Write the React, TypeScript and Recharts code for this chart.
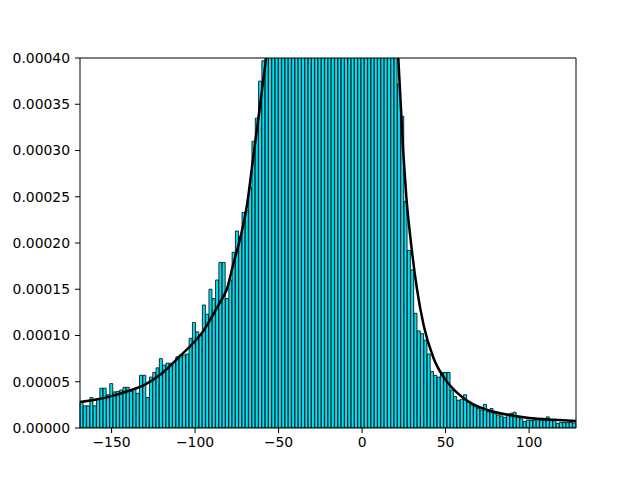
import { Bar, ComposedChart, Line, ReferenceLine, XAxis, YAxis } from "recharts";

// histogram bins (density per bin), left to right
const BIN_START = -168.9;
const BIN_WIDTH = 1.98;
const X_MIN = -168.9;
const X_MAX = 128.1;
const Y_MAX = 0.0004;

const densities = [
  // left tail
  2.8e-5, 2.4e-5, 2.4e-5, 3.3e-5, 2.4e-5, 3.1e-5, 4.3e-5, 4.3e-5, 3.6e-5, 4.8e-5,
  3.9e-5, 3.95e-5, 4.1e-5, 4.4e-5, 4.4e-5, 3.95e-5, 4.2e-5, 3.75e-5, 5.7e-5, 5.7e-5,
  3.3e-5, 5.5e-5, 6.0e-5, 6.5e-5, 7.5e-5, 6.8e-5, 7.0e-5, 7.0e-5, 7.1e-5, 7.7e-5,
  7.9e-5, 7.9e-5, 8.0e-5, 9.7e-5, 1.14e-4, 1.04e-4, 1.0e-4, 1.33e-4, 1.23e-4, 1.5e-4,
  1.4e-4, 1.6e-4, 1.79e-4, 1.79e-4, 1.4e-4, 1.6e-4, 1.9e-4, 2.13e-4, 2.07e-4, 2.33e-4,
  2.35e-4, 2.6e-4, 3.1e-4, 3.35e-4, 3.75e-4, 3.97e-4,
  // centre (beyond the top of the axes)
  4.3e-4, 4.7e-4, 5.1e-4, 5.6e-4, 6.0e-4, 6.5e-4, 7.0e-4, 7.4e-4, 7.8e-4, 8.2e-4,
  8.6e-4, 9.0e-4, 9.3e-4, 9.6e-4, 9.9e-4, 1.01e-3, 1.03e-3, 1.04e-3, 1.05e-3, 1.05e-3,
  1.04e-3, 1.03e-3, 1.01e-3, 9.9e-4, 9.6e-4, 9.3e-4, 9.0e-4, 8.6e-4, 8.2e-4, 7.8e-4,
  7.3e-4, 6.8e-4, 6.3e-4, 5.8e-4, 5.3e-4, 4.9e-4, 4.6e-4, 4.4e-4, 4.2e-4, 4.1e-4,
  // right tail
  3.72e-4, 3.37e-4, 2.45e-4, 1.92e-4, 1.71e-4, 1.24e-4, 1.05e-4, 1.02e-4, 9.5e-5, 8.0e-5,
  6.1e-5, 5.7e-5, 5.5e-5, 6.0e-5, 6.0e-5, 6.0e-5, 4.1e-5, 3.4e-5, 3.0e-5, 3.1e-5,
  3.6e-5, 2.85e-5, 2.5e-5, 2.3e-5, 2.1e-5, 1.95e-5, 2.55e-5, 1.77e-5, 2.1e-5, 1.6e-5,
  1.4e-5, 1.3e-5, 1.15e-5, 1.5e-5, 1.6e-5, 1.7e-5, 1.15e-5, 1.0e-5, 7.0e-6, 8.6e-6,
  8.2e-6, 8.6e-6, 9.0e-6, 8.4e-6, 8.6e-6, 1.2e-5, 8.0e-6, 8.0e-6, 5.0e-6, 6.0e-6,
  6.0e-6, 5.8e-6, 6.0e-6, 5.5e-6,
];

// fitted density curve
const fitX = [
  -169, -160, -150, -140, -130, -120, -110, -100, -95, -90, -85, -81, -77, -73, -69,
  -65, -61, -57.5, -54, -45, -30, -18, -5, 10, 18, 21.7, 24.6, 26.5, 29.3, 32.9, 37,
  42.7, 50, 57, 66, 75, 88, 100, 115, 128.1,
];
const fitY = [
  2.8e-5, 3.05e-5, 3.45e-5, 4.0e-5, 4.7e-5, 5.9e-5, 7.6e-5, 9.4e-5, 1.05e-4, 1.2e-4,
  1.36e-4, 1.5e-4, 1.78e-4, 2.05e-4, 2.4e-4, 2.95e-4, 3.5e-4, 4.0e-4, 4.6e-4, 6.5e-4,
  9.5e-4, 1.05e-3, 9.0e-4, 6.5e-4, 4.8e-4, 4.0e-4, 3.0e-4, 2.5e-4, 2.0e-4, 1.5e-4,
  1.1e-4, 7.6e-5, 5.2e-5, 3.8e-5, 2.6e-5, 1.95e-5, 1.4e-5, 1.08e-5, 8.8e-6, 7.5e-6,
];

const xTicks = [-150, -100, -50, 0, 50, 100];
const yTicks = [0, 0.00005, 0.0001, 0.00015, 0.0002, 0.00025, 0.0003, 0.00035, 0.0004];

const rows = densities.map((d, i) => ({
  bin: (BIN_START + BIN_WIDTH * (i + 0.5)).toFixed(2),
  density: d,
}));
const fitRows = fitX.map((x, i) => ({ x, fit: fitY[i] }));

const tickStyle = { fill: "#000", fontSize: 13.9, fontFamily: "DejaVu Sans" };
const fmtX = (v: number) => (v < 0 ? "\u2212" + Math.abs(v) : String(v));

export default function App() {
  return (
    <div
      style={{
        position: "absolute",
        left: 0,
        top: 0,
        width: 640,
        height: 480,
        background: "#fff",
      }}
    >
      <ComposedChart
        width={640}
        height={480}
        data={rows}
        margin={{ top: 58, right: 64, bottom: 22, left: 0 }}
        barCategoryGap={0}
        barGap={0}
      >
        {/* one band per bin, hidden; the numeric axis below carries the ticks */}
        <XAxis dataKey="bin" type="category" hide height={0} />
        <XAxis
          xAxisId="num"
          dataKey="x"
          type="number"
          domain={[X_MIN, X_MAX]}
          allowDataOverflow
          ticks={xTicks}
          tickFormatter={fmtX}
          tick={tickStyle}
          tickSize={5}
          tickMargin={4}
          height={30}
          stroke="#000"
        />
        <YAxis
          type="number"
          domain={[0, Y_MAX]}
          allowDataOverflow
          ticks={yTicks}
          tickFormatter={(v: number) => v.toFixed(5)}
          tick={tickStyle}
          tickSize={5}
          tickMargin={5}
          width={80}
          stroke="#000"
        />
        <Bar
          dataKey="density"
          fill="#00e0f4"
          stroke="#000"
          strokeWidth={0.8}
          isAnimationActive={false}
        />
        <Line
          xAxisId="num"
          data={fitRows}
          dataKey="fit"
          type="monotone"
          stroke="#000"
          strokeWidth={2.5}
          dot={false}
          isAnimationActive={false}
        />
        <ReferenceLine y={Y_MAX} stroke="#000" strokeWidth={1} />
        <ReferenceLine xAxisId="num" x={X_MAX} stroke="#000" strokeWidth={1} />
      </ComposedChart>
    </div>
  );
}
